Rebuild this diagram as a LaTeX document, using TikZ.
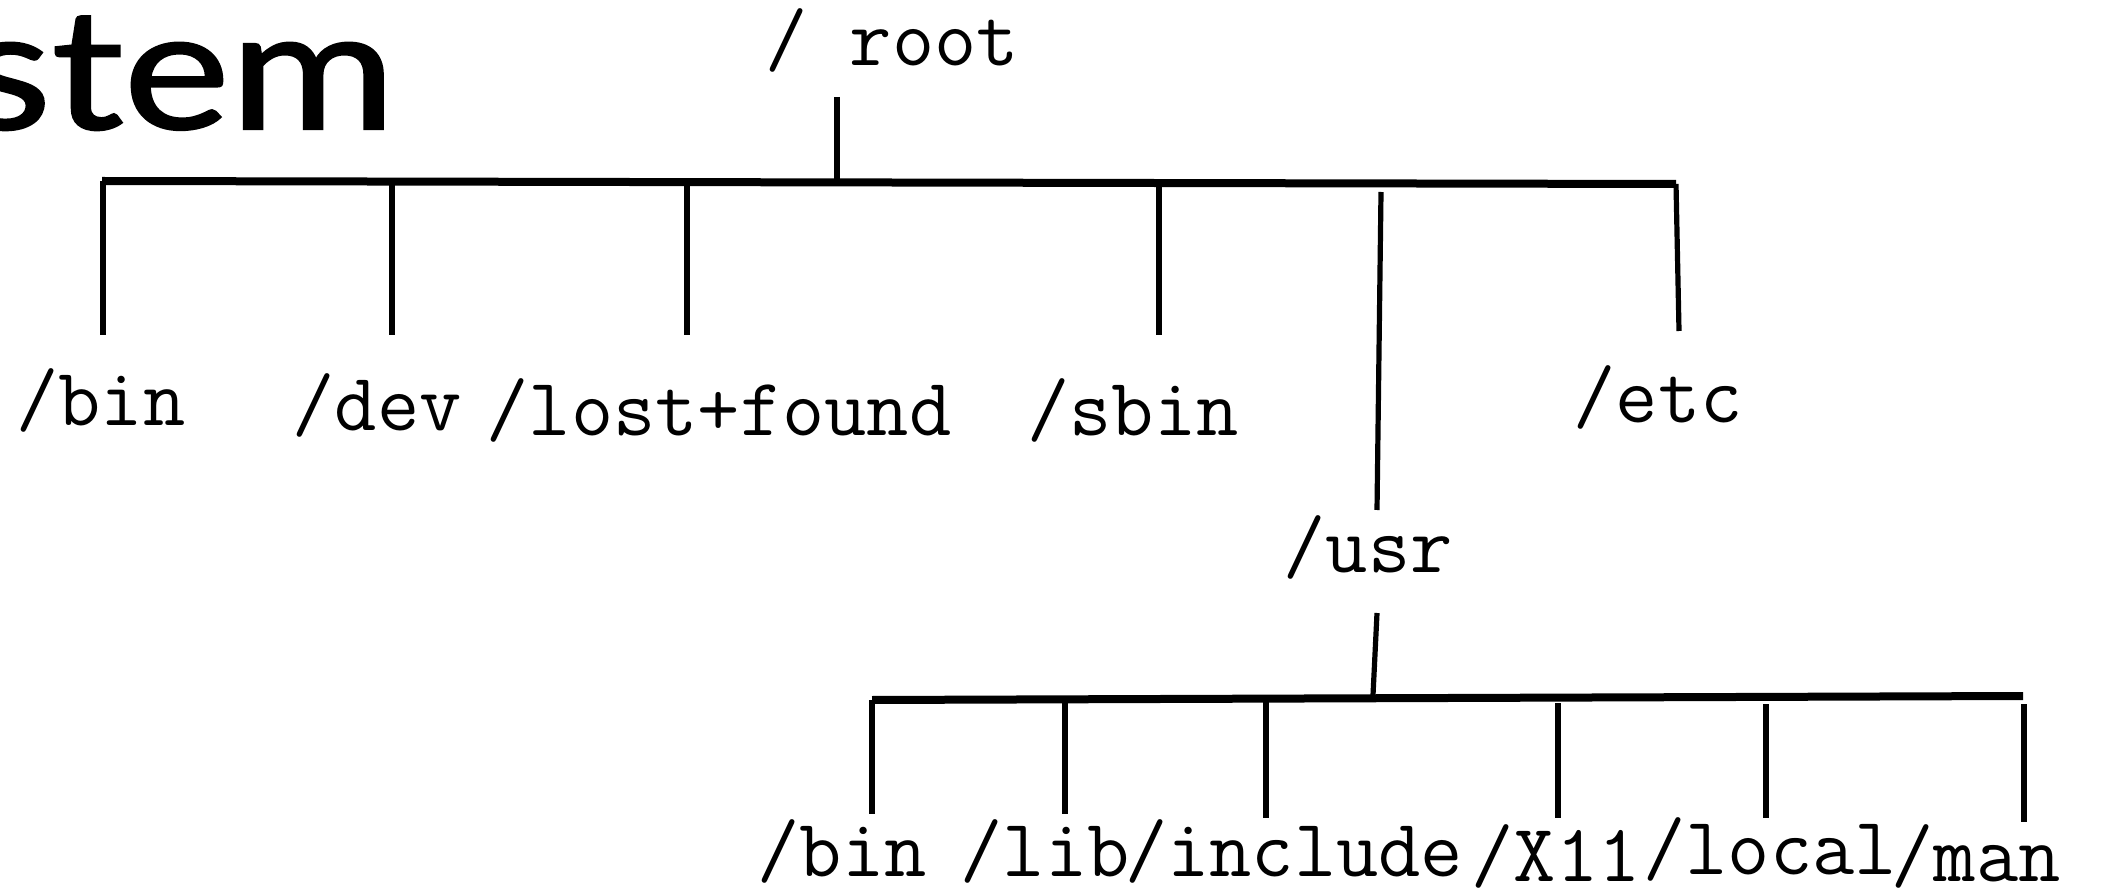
\documentclass[tikz,border=0pt]{standalone}
\usepackage{fontspec}
\newfontfamily\titlefont[BoldFont=Lato, BoldFeatures={FakeBold=1.2}]{Lato}
\begin{document}
\begin{tikzpicture}[x=0.5pt,y=-0.5pt,
  lbl/.style={font=\ttfamily\fontsize{41}{46}\selectfont, inner sep=0pt},
  drop/.style={line width=2.6pt},
  bar/.style={line width=4pt},
]
\useasboundingbox (0,0) rectangle (2103,892);
\fill[white] (0,0) rectangle (2103,892);
\begin{scope}
\clip (0,0) rectangle (2103,892);
\node[anchor=base east, inner sep=0pt, xscale=1.2, font=\titlefont\bfseries\fontsize{84}{92}\selectfont] (title) at (396,129) {stem};
\end{scope}

% root
\node[lbl] (root) at (892,40) {/ root};
\coordinate (rootTop) at (837,97);
\coordinate (rootJ) at (837,181);
\draw[drop] (rootTop) -- (rootJ);

% main bar
\coordinate (barL) at (102,181);
\coordinate (barR) at (1676,184);
\draw[bar] (barL) -- (barR);

% level 1 labels
\node[lbl] (bin) at (101,400) {/bin};
\node[lbl] (dev) at (377,405) {/dev};
\node[lbl] (lost) at (719,410) {/lost+found};
\node[lbl] (sbin) at (1133,410) {/sbin};
\node[lbl] (etc) at (1658,397) {/etc};
\node[lbl] (usr) at (1368,547) {/usr};

% level 1 drops
\coordinate (binT) at (103,181);  \coordinate (binB) at (103,335);
\coordinate (devT) at (392,182);  \coordinate (devB) at (392,335);
\coordinate (lostT) at (687,183); \coordinate (lostB) at (687,335);
\coordinate (sbinT) at (1159,183);\coordinate (sbinB) at (1159,335);
\coordinate (usrT) at (1381,192); \coordinate (usrB) at (1377,510);
\coordinate (etcT) at (1676,184); \coordinate (etcB) at (1679,331);
\draw[drop] (binT) -- (binB);
\draw[drop] (devT) -- (devB);
\draw[drop] (lostT) -- (lostB);
\draw[drop] (sbinT) -- (sbinB);
\draw[drop] (usrT) -- (usrB);
\draw[drop] (etcT) -- (etcB);

% usr subtree
\coordinate (usrS) at (1377,613);
\coordinate (usrJ) at (1373,695);
\draw[drop] (usrS) -- (usrJ);
\coordinate (bar2L) at (872,700);
\coordinate (bar2R) at (2023,696);
\draw[bar] (bar2L) -- (bar2R);

\node[lbl] (ubin) at (842,851) {/bin};
\node[lbl] (ulib) at (1045,851) {/lib};
\node[lbl] (uinc) at (1294,851) {/include};
\node[lbl] (ux11) at (1556,856) {/X11};
\node[lbl] (uloc) at (1770,849) {/local};
\node[lbl] (uman) at (1976,856) {/man};

\coordinate (ubinT) at (872,700); \coordinate (ubinB) at (872,814);
\coordinate (ulibT) at (1065,701);\coordinate (ulibB) at (1065,814);
\coordinate (uincT) at (1266,702);\coordinate (uincB) at (1266,818);
\coordinate (ux11T) at (1558,703);\coordinate (ux11B) at (1558,818);
\coordinate (ulocT) at (1766,704);\coordinate (ulocB) at (1766,818);
\coordinate (umanT) at (2024,704);\coordinate (umanB) at (2024,822);
\draw[drop] (ubinT) -- (ubinB);
\draw[drop] (ulibT) -- (ulibB);
\draw[drop] (uincT) -- (uincB);
\draw[drop] (ux11T) -- (ux11B);
\draw[drop] (ulocT) -- (ulocB);
\draw[drop] (umanT) -- (umanB);
\end{tikzpicture}
\end{document}
